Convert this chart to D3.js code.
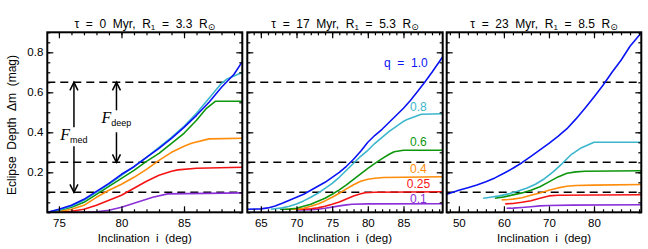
<!DOCTYPE html>
<html>
<head>
<meta charset="utf-8">
<script src="https://cdnjs.cloudflare.com/ajax/libs/d3/7.8.5/d3.min.js"></script>
<style>
body{margin:0;background:#fff;}
svg{display:block;font-family:"Liberation Sans",Arial,sans-serif;}
text{white-space:pre;}
.frame{fill:none;stroke:#000;stroke-width:2;}
.axis path{display:none;}
.axis line{stroke:#000;stroke-width:1.2;}
.axis text{font-size:11.5px;fill:#000;}
.curve{fill:none;stroke-width:1.6;stroke-linejoin:round;}
.thr{stroke:#000;stroke-width:1.6;stroke-dasharray:8,5;}
</style>
</head>
<body>
<div id="canvas" class="canvas"></div>
<script>
// q values (labels) and colours of the curves
var qLabels = ['q  =  1.0','0.8','0.6','0.4','0.25','0.1'];
var qColors = ['#0a14f5','#3cb6cc','#0e960e','#ff8c0a','#f51414','#8a30d8'];

// panel titles: age, radius
var ages = ['0','17','23'];
var radii = ['3.3','5.3','8.5'];

// horizontal dashed levels (mag)
var levels = [0.65, 0.25, 0.1];

// tick labels
var yTicks = [0.2,0.4,0.6,0.8];
var p1Ticks = [75,80,85];
var p2Ticks = [65,70,75,80,85];
var p3Ticks = [50,60,70,80];

// panel 1 (tau = 0 Myr): [inclination, depth]
var p1q10 = [[74.1,0],[75,0.015],[76,0.035],[77,0.065],[78,0.105],[79,0.145],[80,0.19],[81,0.228],[82,0.275],[83,0.32],[84,0.37],[85,0.425],[86,0.485],[87,0.55],[88,0.625],[89,0.69],[89.7,0.757]];
var p1q08 = [[74.1,0],[75,0.012],[76,0.03],[77,0.06],[78,0.1],[79,0.14],[80,0.185],[81,0.228],[82,0.275],[83,0.325],[84,0.375],[85,0.43],[86,0.495],[87,0.57],[88,0.645],[88.4,0.665],[89.7,0.70]];
var p1q06 = [[74.1,0],[75,0.01],[76,0.025],[77,0.05],[78,0.09],[79,0.13],[80,0.17],[81,0.21],[82,0.255],[83,0.295],[84,0.345],[85,0.395],[86,0.46],[86.8,0.52],[87.5,0.555],[89.7,0.555]];
var p1q04 = [[74.1,0],[75,0.004],[76,0.015],[77,0.035],[78,0.075],[79,0.11],[80,0.14],[81,0.175],[82,0.215],[83,0.26],[84,0.3],[85,0.33],[85.6,0.345],[87,0.367],[89.7,0.37]];
var p1q025 = [[74.1,0],[75,0],[76,0.005],[77,0.015],[78,0.035],[79,0.06],[80,0.085],[81,0.12],[82,0.155],[83,0.185],[84,0.205],[84.5,0.212],[86,0.22],[89.7,0.225]];
var p1q01 = [[74.1,0],[77,0],[78,0.003],[79,0.01],[80,0.025],[81,0.045],[82,0.065],[82.5,0.075],[83.7,0.092],[89.7,0.097]];

// panel 2 (tau = 17 Myr)
var p2q10 = [[63.1,0.015],[65,0.017],[66,0.022],[67,0.032],[68,0.045],[69,0.06],[70,0.075],[71,0.09],[72,0.11],[73,0.13],[74,0.15],[75,0.175],[76,0.2],[77,0.23],[78,0.265],[79,0.305],[80,0.35],[81,0.385],[82,0.415],[83,0.45],[84,0.485],[85,0.52],[86,0.56],[87,0.605],[88,0.652],[89,0.70],[90.5,0.778]];
var p2q08 = [[66.4,0.015],[68,0.022],[69,0.03],[70,0.042],[71,0.057],[72,0.075],[73,0.095],[74,0.12],[75,0.145],[76,0.175],[77,0.21],[78,0.245],[79,0.28],[80,0.31],[81,0.345],[82,0.375],[83,0.405],[84,0.43],[85,0.455],[85.7,0.467],[87.5,0.49],[90.5,0.493]];
var p2q06 = [[67.7,0.015],[69,0.016],[70,0.02],[71,0.03],[72,0.04],[73,0.055],[74,0.07],[75,0.09],[76,0.112],[77,0.137],[78,0.165],[79,0.192],[80,0.22],[81,0.245],[82,0.268],[83,0.29],[83.7,0.303],[85,0.31],[90.5,0.31]];
var p2q04 = [[68.5,0.015],[70,0.016],[71,0.02],[72,0.03],[73,0.042],[74,0.057],[75,0.075],[76,0.095],[77,0.117],[78,0.138],[79,0.155],[80,0.165],[81,0.17],[82.2,0.174],[90.5,0.178]];
var p2q025 = [[69.5,0.015],[71,0.016],[72,0.018],[73,0.022],[74,0.03],[75,0.04],[76,0.052],[77,0.067],[78,0.082],[79,0.093],[79.6,0.098],[81,0.1],[90.5,0.103]];
var p2q01 = [[70,0.012],[72,0.013],[73,0.015],[74,0.02],[75,0.026],[76,0.032],[77,0.037],[77.8,0.04],[80,0.042],[90.5,0.043]];

// panel 3 (tau = 23 Myr)
var p3q10 = [[47.3,0.09],[50,0.11],[52,0.123],[54,0.137],[56,0.153],[58,0.172],[60,0.195],[62,0.22],[64,0.248],[66,0.28],[68,0.312],[70,0.345],[72,0.38],[74,0.418],[76,0.467],[78,0.52],[80,0.577],[82,0.635],[84,0.7],[86,0.76],[88,0.83],[90.5,0.898]];
var p3q08 = [[55.4,0.07],[57,0.075],[59,0.082],[61,0.092],[63,0.105],[65,0.12],[67,0.14],[69,0.168],[71,0.203],[73,0.245],[75,0.29],[77,0.32],[80,0.35],[90.5,0.35]];
var p3q06 = [[58,0.07],[60,0.077],[62,0.087],[64,0.097],[66,0.11],[68,0.128],[70,0.152],[72,0.177],[74,0.195],[76,0.202],[78,0.205],[90.5,0.208]];
var p3q04 = [[59.5,0.062],[61,0.064],[62,0.066],[64,0.073],[66,0.085],[68,0.097],[70,0.11],[72,0.122],[74,0.13],[76,0.134],[80,0.136],[90.5,0.139]];
var p3q025 = [[60.3,0.042],[62,0.044],[64,0.05],[66,0.058],[68,0.07],[70,0.082],[72,0.085],[90.5,0.088]];
var p3q01 = [[60.6,0.02],[62,0.021],[64,0.024],[66,0.028],[68,0.032],[70,0.034],[75,0.036],[90.5,0.038]];


var outerWidth = 648, outerHeight = 249;
var top_ = 32.3, bottom = 212.3;

var panels = [
  {left:47.3, right:242.3, dom:[74.07,89.66], ticks:p1Ticks, minorStep:1, series:[p1q10,p1q08,p1q06,p1q04,p1q025,p1q01]},
  {left:247.3, right:442.7, dom:[63.1,90.5], ticks:p2Ticks, minorStep:1, series:[p2q10,p2q08,p2q06,p2q04,p2q025,p2q01]},
  {left:446.7, right:641.3, dom:[47.3,90.5], ticks:p3Ticks, minorStep:2, series:[p3q10,p3q08,p3q06,p3q04,p3q025,p3q01]}
];

var svg = d3.select('.canvas')
    .append('svg')
    .attr('width',outerWidth)
    .attr('height',outerHeight);

var scaleY = d3.scaleLinear()
    .domain([0,0.9])
    .range([bottom,top_]);

var yMinor = d3.range(0,0.901,0.05);

panels.forEach(function(p,pi){
  var w = p.right - p.left;
  var scaleX = d3.scaleLinear().domain(p.dom).range([p.left,p.right]);
  p.scaleX = scaleX;
  var xMinor = d3.range(Math.ceil(p.dom[0]), p.dom[1], p.minorStep);

  svg.append('clipPath').attr('id','clip'+pi)
    .append('rect').attr('x',p.left).attr('y',top_).attr('width',w).attr('height',bottom-top_);

  var g = svg.append('g').attr('clip-path','url(#clip'+pi+')');

  // dashed levels
  g.selectAll('.thr')
    .data(levels)
    .enter()
    .append('line')
    .attr('class','thr')
    .attr('x1',p.left).attr('x2',p.right)
    .attr('y1',function(d){return scaleY(d);})
    .attr('y2',function(d){return scaleY(d);});

  var line = d3.line()
    .x(function(d){return scaleX(d[0]);})
    .y(function(d){return scaleY(d[1]);});

  // draw q = 0.1 first so blue stays on top
  p.series.slice().reverse().forEach(function(s,k){
    var idx = p.series.length - 1 - k;
    g.append('path')
      .attr('class','curve')
      .attr('d',line(s))
      .attr('stroke',qColors[idx]);
  });

  // axes: bottom with labels, top mirrored
  svg.append('g').attr('class','axis')
    .attr('transform','translate(0,'+bottom+')')
    .call(d3.axisBottom(scaleX).tickValues(p.ticks).tickSize(-6).tickSizeOuter(0).tickPadding(6.5).tickFormat(d3.format('d')));
  svg.append('g').attr('class','axis')
    .attr('transform','translate(0,'+bottom+')')
    .call(d3.axisBottom(scaleX).tickValues(xMinor).tickSize(-3).tickSizeOuter(0).tickFormat(''));
  svg.append('g').attr('class','axis')
    .attr('transform','translate(0,'+top_+')')
    .call(d3.axisTop(scaleX).tickValues(p.ticks).tickSize(-6).tickSizeOuter(0).tickFormat(''));
  svg.append('g').attr('class','axis')
    .attr('transform','translate(0,'+top_+')')
    .call(d3.axisTop(scaleX).tickValues(xMinor).tickSize(-3).tickSizeOuter(0).tickFormat(''));

  var axisL = d3.axisLeft(scaleY).tickValues(yTicks).tickSize(-6).tickSizeOuter(0).tickPadding(4);
  if(pi>0) axisL.tickFormat('');
  svg.append('g').attr('class','axis')
    .attr('transform','translate('+p.left+',0)')
    .call(axisL);
  svg.append('g').attr('class','axis')
    .attr('transform','translate('+p.left+',0)')
    .call(d3.axisLeft(scaleY).tickValues(yMinor).tickSize(-3).tickSizeOuter(0).tickFormat(''));
  svg.append('g').attr('class','axis')
    .attr('transform','translate('+p.right+',0)')
    .call(d3.axisRight(scaleY).tickValues(yTicks).tickSize(-6).tickSizeOuter(0).tickFormat(''));
  svg.append('g').attr('class','axis')
    .attr('transform','translate('+p.right+',0)')
    .call(d3.axisRight(scaleY).tickValues(yMinor).tickSize(-3).tickSizeOuter(0).tickFormat(''));

  svg.append('rect').attr('class','frame')
    .attr('x',p.left).attr('y',top_).attr('width',w).attr('height',bottom-top_);

  // title
  var cx = (p.left+p.right)/2;
  var t = svg.append('text')
    .attr('x',cx).attr('y',27.5)
    .attr('text-anchor','middle')
    .attr('font-size',12);
  t.append('tspan').text('\u03c4  =  '+ages[pi]+'  Myr,  R');
  t.append('tspan').attr('font-size',8).attr('dy',2.5).text('1');
  t.append('tspan').attr('dy',-2.5).text('  =  '+radii[pi]+'  R');
  t.append('tspan').attr('font-size',9).attr('dy',2).attr('font-family','DejaVu Sans').text('\u2299');

  // x title
  svg.append('text')
    .attr('x',cx).attr('y',241.5)
    .attr('text-anchor','middle')
    .attr('font-size',11.5)
    .text('Inclination  i  (deg)');
});

// y title
svg.append('text')
  .attr('transform','translate(16,125) rotate(-90)')
  .attr('text-anchor','middle')
  .attr('font-size',12)
  .text('Eclipse  Depth  \u0394m  (mag)');

// q labels in panel 2
var p2 = panels[1];
var qLabelPos = [[88.4,0.726,'end'],[87.1,0.507,'middle'],[87.1,0.332,'middle'],[87.1,0.197,'middle'],[87.1,0.122,'middle'],[87.1,0.047,'middle']];
svg.selectAll('.qlab')
  .data(qLabels)
  .enter()
  .append('text')
  .attr('class','qlab')
  .attr('x',function(d,i){return p2.scaleX(qLabelPos[i][0]);})
  .attr('y',function(d,i){return scaleY(qLabelPos[i][1]);})
  .attr('text-anchor',function(d,i){return qLabelPos[i][2];})
  .attr('font-size',12)
  .attr('fill',function(d,i){return qColors[i];})
  .text(function(d){return d;});

// F_med / F_deep arrows in panel 1
var p1 = panels[0];
function arrow(xv, y1, y2, dir){
  var x = p1.scaleX(xv), a = scaleY(y1), b = scaleY(y2);
  svg.append('line').attr('x1',x).attr('x2',x).attr('y1',a).attr('y2',b)
    .attr('stroke','#000').attr('stroke-width',1.5);
  var tip = b, s = dir*8;
  svg.append('path')
    .attr('d','M'+(x-4)+','+(tip+s)+'L'+x+','+tip+'L'+(x+4)+','+(tip+s))
    .attr('fill','none').attr('stroke','#000').attr('stroke-width',1.5);
}
arrow(76.2, 0.425, 0.65, 1);
arrow(76.2, 0.33, 0.1, -1);
arrow(79.6, 0.51, 0.65, 1);
arrow(79.6, 0.40, 0.25, -1);

function flabel(xv, yv, sub){
  var t = svg.append('text')
    .attr('x',p1.scaleX(xv)).attr('y',scaleY(yv))
    .attr('text-anchor','middle');
  t.append('tspan').attr('font-family','Liberation Serif').attr('font-style','italic').attr('font-size',16).text('F');
  t.append('tspan').attr('font-size',9).attr('dy',3).text(sub);
}
flabel(76.2, 0.36, 'med');
flabel(79.6, 0.448, 'deep');
</script>
</body>
</html>
